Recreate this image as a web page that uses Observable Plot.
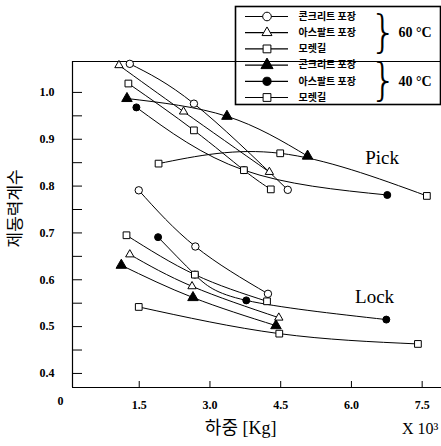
<!DOCTYPE html>
<html><head><meta charset="utf-8">
<script src="https://cdn.jsdelivr.net/npm/d3@7"></script>
<script src="https://cdn.jsdelivr.net/npm/@observablehq/plot@0.6"></script>
<style>
body{margin:0;background:#fff;}
#wrap{position:relative;width:441px;height:446px;}
#wrap .legend{position:absolute;left:234px;top:5px;}
</style></head><body><div id="wrap"></div>
<script>
// ---- tick labels & texts ----
const xTicks = [1.5, 3.0, 4.5, 6.0, 7.5];
const yTicks = [0.4, 0.5, 0.6, 0.7, 0.8, 0.9, 1.0];
const yMinorTicks = [0.45, 0.55, 0.65, 0.75, 0.85, 0.95];
const originLabel = "0";
const xLabel = "하중 [Kg]";
const xUnit = "X 10³";
const yLabel = "제동력계수";
const annotations = ["Pick", "Lock"];
const annotationX = [6.65, 6.49];
const annotationY = [0.861, 0.563];

// ---- series ----
const seriesKeys = ["c60", "a60", "m60", "c40", "a40", "m40"];
const seriesNames = ["콘크리트 포장", "아스팔트 포장", "모렛길", "콘크리트 포장", "아스팔트 포장", "모렛길"];
const tempGroups = ["60 °C", "40 °C"];

// Pick (load x10^3 kg, braking coefficient)
const pickC60X = [1.30, 2.66, 4.65], pickC60Y = [1.061, 0.976, 0.792];
const pickA60X = [1.07, 2.44, 4.26], pickA60Y = [1.058, 0.959, 0.830];
const pickM60X = [1.27, 2.66, 3.72, 4.29], pickM60Y = [1.019, 0.919, 0.834, 0.793];
const pickC40X = [1.24, 3.36, 5.07], pickC40Y = [0.987, 0.949, 0.864];
const pickA40X = [1.44, 3.72, 6.76], pickA40Y = [0.968, 0.834, 0.781];
const pickM40X = [1.91, 4.49, 7.60], pickM40Y = [0.848, 0.870, 0.779];
// Lock
const lockC60X = [1.49, 2.69, 4.23], lockC60Y = [0.791, 0.671, 0.570];
const lockA60X = [1.30, 2.62, 4.46], lockA60Y = [0.654, 0.586, 0.519];
const lockM60X = [1.23, 2.68, 4.21], lockM60Y = [0.695, 0.611, 0.554];
const lockC40X = [1.12, 2.64, 4.40], lockC40Y = [0.631, 0.562, 0.502];
const lockA40X = [1.90, 2.68, 3.77, 6.74], lockA40Y = [0.691, 0.611, 0.556, 0.515];
const lockM40X = [1.49, 4.47, 7.41], lockM40Y = [0.542, 0.485, 0.463];

const seriesData = {
  c60: [[pickC60X, pickC60Y], [lockC60X, lockC60Y]],
  a60: [[pickA60X, pickA60Y], [lockA60X, lockA60Y]],
  m60: [[pickM60X, pickM60Y], [lockM60X, lockM60Y]],
  c40: [[pickC40X, pickC40Y], [lockC40X, lockC40Y]],
  a40: [[pickA40X, pickA40Y], [lockA40X, lockA40Y]],
  m40: [[pickM40X, pickM40Y], [lockM40X, lockM40Y]]
};

// ---- styles ----
const style = {
  c60: {symbol: "circle", fill: "white", r: 3.7},
  a60: {symbol: "triangle", fill: "white", r: 3.1},
  m60: {symbol: "square", fill: "white", r: 3.8},
  c40: {symbol: "triangle", fill: "black", r: 3.9},
  a40: {symbol: "circle", fill: "black", r: 3.5},
  m40: {symbol: "square", fill: "white", r: 3.8}
};
const drawOrder = ["c40", "a40", "c60", "a60", "m60", "m40"];

const W = 441, H = 446, mL = 72, mR = 0, mT = 61, mB = 59;
const plotW = W - mL - mR, plotH = H - mT - mB;
const xDomain = [0.085, 7.91], yDomain = [0.37, 1.066];
const serif = "'Liberation Serif', 'Times New Roman', serif";
const kr = "'Noto Sans CJK KR', 'Noto Sans', sans-serif";

const rows = [];
for (const k of seriesKeys) {
  seriesData[k].forEach(([xs, ys], j) => {
    xs.forEach((x, i) => rows.push({key: k, cond: j, x, y: ys[i]}));
  });
}

const lineMarks = [];
for (const k of seriesKeys) {
  for (const j of [0, 1]) {
    lineMarks.push(Plot.line(rows.filter(d => d.key === k && d.cond === j),
      {x: "x", y: "y", stroke: "black", strokeWidth: 1, curve: "natural"}));
  }
}
const dotMarks = drawOrder.map(k => Plot.dot(rows.filter(d => d.key === k), {
  x: "x", y: "y", symbol: style[k].symbol, r: style[k].r,
  fill: style[k].fill, stroke: "black", strokeWidth: 1
}));

const chart = Plot.plot({
  width: W, height: H,
  marginTop: mT, marginLeft: mL, marginRight: mR, marginBottom: mB,
  x: {domain: xDomain},
  y: {domain: yDomain},
  style: {fontFamily: serif, background: "white", overflow: "visible", color: "black"},
  marks: [
    Plot.ruleX([xDomain[0]], {stroke: "black", strokeWidth: 1.2}),
    Plot.ruleY([yDomain[0]], {stroke: "black", strokeWidth: 1.2}),
    Plot.ruleY([yDomain[1]], {stroke: "black", strokeWidth: 1.2}),
    Plot.tickY(yTicks.concat(yMinorTicks), {y: d => d, insetRight: plotW - 10, stroke: "black"}),
    Plot.tickX(xTicks, {x: d => d, insetTop: plotH - 6, stroke: "black"}),
    Plot.axisX(xTicks, {tickSize: 0, tickPadding: 13, fontSize: 12, fontWeight: "bold", fontFamily: serif, label: null, tickFormat: d3.format(".1f")}),
    Plot.axisY(yTicks, {tickSize: 0, tickPadding: 18, fontSize: 12, fontWeight: "bold", fontFamily: serif, label: null, tickFormat: d3.format(".1f")}),
    Plot.text([originLabel], {x: () => 0, frameAnchor: "bottom", dy: 17, dx: -8, text: d => d, fontSize: 12, fontWeight: "bold", fontFamily: serif}),
    Plot.text([xLabel], {x: () => 3.65, frameAnchor: "bottom", dy: 46, text: d => d, fontSize: 18, fontFamily: serif + ", " + kr}),
    Plot.text([xUnit], {x: () => xTicks[4], frameAnchor: "bottom", dy: 46, dx: -2, text: d => d, fontSize: 16, fontFamily: serif}),
    Plot.text([yLabel], {y: () => 0.669, frameAnchor: "left", dx: -57, rotate: -90, text: d => d, fontSize: 17, fontFamily: kr}),
    Plot.text(annotations, {x: (d, i) => annotationX[i], y: (d, i) => annotationY[i], text: d => d, fontSize: 19, fontFamily: serif}),
    ...lineMarks,
    ...dotMarks
  ]
});

// ---- legend (overlay) ----
const legIdx = seriesKeys.map((k, i) => i);
const legend = Plot.plot({
  width: 207, height: 100, margin: 0,
  x: {type: "identity", axis: null},
  y: {domain: [0, 5], range: [11, 92], axis: null},
  style: {background: "transparent", overflow: "visible", color: "black"},
  marks: [
    Plot.frame({stroke: "black", strokeWidth: 1.6, inset: 1}),
    Plot.ruleY(legIdx, {y: d => d, x1: 11, x2: 54, stroke: "black", strokeWidth: 1.2}),
    ...seriesKeys.map((k, i) => Plot.dot([i], {x: () => 32.5, y: d => d, symbol: style[k].symbol,
      r: style[k].r + 0.6, fill: style[k].fill, stroke: "black", strokeWidth: 1})),
    Plot.text(legIdx, {x: () => 64, y: d => d, text: d => seriesNames[d], textAnchor: "start",
      fontSize: 10, fontWeight: "bold", fontFamily: kr}),
    Plot.text(tempGroups, {x: () => 149, y: (d, i) => i * 3 + 1, text: () => "}", fontSize: 44,
      fontFamily: "'DejaVu Sans'", fontWeight: 200}),
    Plot.text(tempGroups, {x: () => 164, y: (d, i) => i * 3 + 1, text: d => d, textAnchor: "start",
      fontSize: 14, fontWeight: "bold", fontFamily: serif})
  ]
});
legend.classList.add("legend");

const wrap = document.getElementById("wrap");
wrap.appendChild(chart);
wrap.appendChild(legend);
</script>
</body></html>
